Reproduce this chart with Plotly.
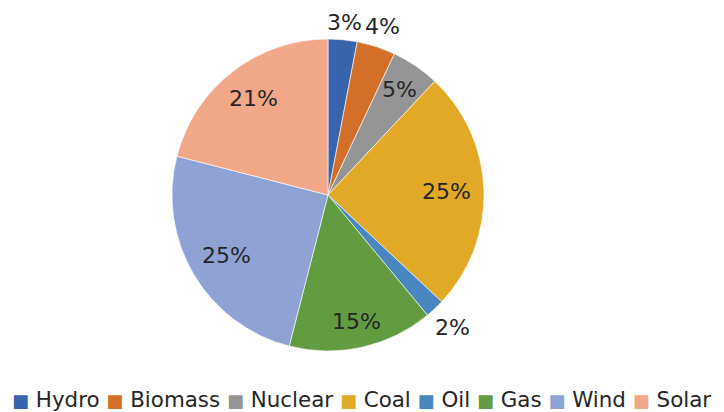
import math
import plotly.graph_objects as go

labels = ["Hydro", "Biomass", "Nuclear", "Coal", "Oil", "Gas", "Wind", "Solar"]
values = [3, 4, 5, 25, 2, 15, 25, 21]
colors = ["#3864AE", "#D46F29", "#959595", "#E1A925", "#4A86BF", "#639B40", "#8FA2D4", "#F1A888"]
outside = [True, True, False, False, True, False, False, False]

W, H = 724, 412
cx, cy, r = 328, 195, 156
FONT = "DejaVu Sans"
TXT = "#262626"
LBL_SIZE = 22

fig = go.Figure(go.Pie(
    labels=labels,
    values=values,
    sort=False,
    direction="clockwise",
    rotation=0,
    marker=dict(colors=colors, line=dict(color="white", width=0.6)),
    textinfo="none",
    domain=dict(x=[(cx - r) / W, (cx + r) / W], y=[1 - (cy + r) / H, 1 - (cy - r) / H]),
    hoverinfo="label+percent",
    showlegend=False,
))

# percentage labels at each slice's mid-angle (inside near the rim, or just outside)
total = sum(values)
cum = 0
annotations = []
for lab, v, o in zip(labels, values, outside):
    mid = (cum + v / 2) / total * 2 * math.pi
    cum += v
    s, c = math.sin(mid), math.cos(mid)
    txt = f"{round(100 * v / total)}%"
    hw = 0.37 * LBL_SIZE * len(txt)
    hh = 8
    ext = hw * abs(s) + hh * abs(c)
    dist = r + 6 + 18 * abs(s) + 10 * abs(c) if o else r - 13 - ext
    px = cx + dist * s
    py = cy - dist * c
    annotations.append(dict(
        x=px / W, y=1 - py / H, xref="paper", yref="paper",
        text=txt, showarrow=False,
        xanchor="center", yanchor="middle",
        font=dict(family=FONT, size=LBL_SIZE, color=TXT),
    ))

# legend row (colored squares + names) as one line of text
legend_text = " ".join(
    f"<span style='color:{col};font-size:18px'>■</span> {lab}" for lab, col in zip(labels, colors)
)
annotations.append(dict(
    x=361 / W, y=1 - 399.5 / H, xref="paper", yref="paper",
    text=legend_text, showarrow=False, xanchor="center", yanchor="middle",
    font=dict(family=FONT, size=21.4, color=TXT),
))

fig.update_layout(
    width=W, height=H,
    margin=dict(l=0, r=0, t=0, b=0),
    paper_bgcolor="white",
    plot_bgcolor="white",
    font=dict(family=FONT, color=TXT),
    showlegend=False,
    annotations=annotations,
)

fig.write_html(
    "out.html",
    config={"displayModeBar": False},
    post_script="document.body.style.margin='0';document.body.style.overflow='hidden';",
)
